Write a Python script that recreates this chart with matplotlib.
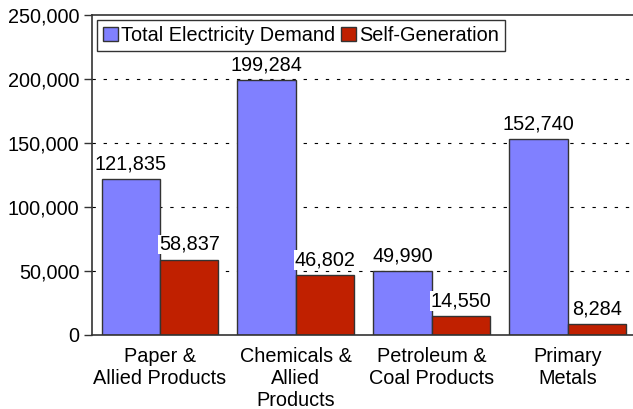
import matplotlib
matplotlib.use('Agg')
import matplotlib.pyplot as plt
import numpy as np

categorias = ['Paper &\nAllied Products', 'Chemicals &\nAllied\nProducts',
              'Petroleum &\nCoal Products', 'Primary\nMetals']
demanda_total = [121835, 199284, 49990, 152740]
autogeneracion = [58837, 46802, 14550, 8284]

plt.rcParams['font.family'] = ['Liberation Sans', 'DejaVu Sans']
fs = 14.3

fig = plt.figure(figsize=(6.33, 4.09), dpi=100)
ax = fig.add_axes([92 / 633, 1 - 335 / 409, 541 / 633, 320 / 409])

x = np.arange(len(categorias))
ancho = 0.43
b1 = ax.bar(x - ancho / 2, demanda_total, ancho, color='#8080FF', edgecolor='#333333',
            linewidth=1, label='Total Electricity Demand', zorder=2)
b2 = ax.bar(x + ancho / 2, autogeneracion, ancho, color='#C02000', edgecolor='#333333',
            linewidth=1, label='Self-Generation', zorder=2)

for barras in (b1, b2):
    for b in barras:
        v = b.get_height()
        ax.text(b.get_x() + b.get_width() / 2, v + 4500, f'{v:,.0f}', ha='center', va='bottom',
                fontsize=fs, zorder=3,
                bbox=dict(facecolor='white', edgecolor='none', pad=0.3))

ax.set_ylim(0, 250000)
ax.set_xlim(-0.5, 3.48)
ax.set_yticks(range(0, 250001, 50000))
ax.set_yticklabels([f'{v:,}' for v in range(0, 250001, 50000)], fontsize=fs)
ax.set_xticks(x)
ax.set_xticklabels(categorias, fontsize=fs, va='top', linespacing=1.2)
ax.tick_params(axis='x', length=0, pad=9)
ax.tick_params(axis='y', length=6, width=1, color='#333333', pad=3)

for v in range(50000, 250000, 50000):
    ax.axhline(v, color='black', linestyle=(0, (3, 7)), linewidth=0.8, zorder=1)

ax.spines['right'].set_visible(False)
for s in ('left', 'bottom', 'top'):
    ax.spines[s].set_color('#333333')
    ax.spines[s].set_linewidth(1.2)

leg = ax.legend(loc='upper left', ncol=2, fontsize=fs, frameon=True, fancybox=False,
                edgecolor='black', handlelength=0.75, handleheight=0.75, handletextpad=0.15,
                columnspacing=0.3, borderpad=0.3, borderaxespad=0.25)
leg.get_frame().set_linewidth(1)

fig.savefig('out.png', dpi=100, facecolor='white')
